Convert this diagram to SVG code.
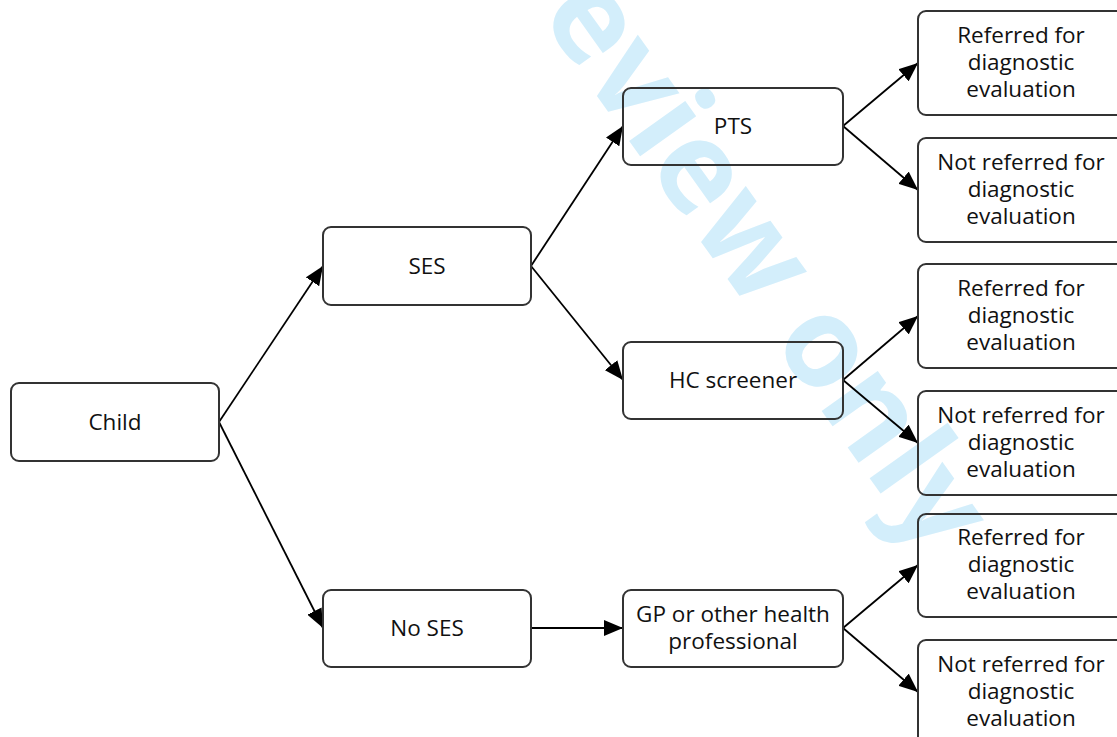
<svg xmlns="http://www.w3.org/2000/svg" width="1117" height="737" viewBox="0 0 1117 737">
  <defs>
    <marker id="arrow" markerUnits="userSpaceOnUse" markerWidth="20" markerHeight="16" refX="19" refY="8" orient="auto">
      <path d="M0,0 L19,8 L0,16 Z" fill="#000"/>
    </marker>
    <style>
      .box { fill: none; stroke: #333; stroke-width: 2; }
      .lbl { font-family: "Open Sans", "Noto Sans", sans-serif; font-size: 22.5px; fill: #111; text-anchor: middle; }
      .link { stroke: #000; stroke-width: 1.8; fill: none; marker-end: url(#arrow); }
      .mark { font-family: "Open Sans", "Noto Sans", sans-serif; font-weight: bold; font-size: 126px; fill: #d3eefb; }
    </style>
  </defs>
  <rect width="1117" height="737" fill="#fff"/>

  <!-- background stamp -->
  <text class="mark" text-anchor="end" transform="translate(928,560) rotate(54.5)">For peer review only</text>

  <!-- connectors -->
  <g id="connectors">
    <line class="link" x1="219" y1="422" x2="323" y2="266"/>
    <line class="link" x1="219" y1="422" x2="323" y2="628"/>
    <line class="link" x1="531" y1="266" x2="623" y2="126"/>
    <line class="link" x1="531" y1="266" x2="623" y2="380"/>
    <line class="link" x1="531" y1="628" x2="623" y2="628"/>
    <line class="link" x1="843" y1="126" x2="918" y2="63"/>
    <line class="link" x1="843" y1="126" x2="918" y2="190"/>
    <line class="link" x1="843" y1="380" x2="918" y2="316"/>
    <line class="link" x1="843" y1="380" x2="918" y2="443"/>
    <line class="link" x1="843" y1="628" x2="918" y2="565"/>
    <line class="link" x1="843" y1="628" x2="918" y2="692"/>
  </g>

  <g id="child">
    <rect class="box" x="11" y="383" width="208" height="78" rx="8"/>
    <text class="lbl" x="115" y="429.5">Child</text>
  </g>
  <g id="ses">
    <rect class="box" x="323" y="227" width="208" height="78" rx="8"/>
    <text class="lbl" x="427" y="273.5">SES</text>
  </g>
  <g id="no-ses">
    <rect class="box" x="323" y="590" width="208" height="77" rx="8"/>
    <text class="lbl" x="427" y="636">No SES</text>
  </g>
  <g id="pts">
    <rect class="box" x="623" y="88" width="220" height="77" rx="8"/>
    <text class="lbl" x="733" y="134">PTS</text>
  </g>
  <g id="hc-screener">
    <rect class="box" x="623" y="342" width="220" height="77" rx="8"/>
    <text class="lbl" x="733" y="388">HC screener</text>
  </g>
  <g id="gp">
    <rect class="box" x="623" y="590" width="220" height="77" rx="8"/>
    <text class="lbl" x="733" y="622">GP or other health</text>
    <text class="lbl" x="733" y="649">professional</text>
  </g>

  <g id="pts-referred">
    <rect class="box" x="918" y="11" width="210" height="104" rx="8"/>
    <text class="lbl" x="1021" y="43">Referred for</text>
    <text class="lbl" x="1021" y="70">diagnostic</text>
    <text class="lbl" x="1021" y="97">evaluation</text>
  </g>
  <g id="pts-not-referred">
    <rect class="box" x="918" y="138" width="210" height="104" rx="8"/>
    <text class="lbl" x="1021" y="170">Not referred for</text>
    <text class="lbl" x="1021" y="197">diagnostic</text>
    <text class="lbl" x="1021" y="224">evaluation</text>
  </g>
  <g id="hc-referred">
    <rect class="box" x="918" y="264" width="210" height="104" rx="8"/>
    <text class="lbl" x="1021" y="296">Referred for</text>
    <text class="lbl" x="1021" y="323">diagnostic</text>
    <text class="lbl" x="1021" y="350">evaluation</text>
  </g>
  <g id="hc-not-referred">
    <rect class="box" x="918" y="391" width="210" height="104" rx="8"/>
    <text class="lbl" x="1021" y="423">Not referred for</text>
    <text class="lbl" x="1021" y="450">diagnostic</text>
    <text class="lbl" x="1021" y="477">evaluation</text>
  </g>
  <g id="gp-referred">
    <rect class="box" x="918" y="514" width="210" height="103" rx="8"/>
    <text class="lbl" x="1021" y="545">Referred for</text>
    <text class="lbl" x="1021" y="572">diagnostic</text>
    <text class="lbl" x="1021" y="599">evaluation</text>
  </g>
  <g id="gp-not-referred">
    <rect class="box" x="918" y="640" width="210" height="104" rx="8"/>
    <text class="lbl" x="1021" y="672">Not referred for</text>
    <text class="lbl" x="1021" y="699">diagnostic</text>
    <text class="lbl" x="1021" y="726">evaluation</text>
  </g>
</svg>
